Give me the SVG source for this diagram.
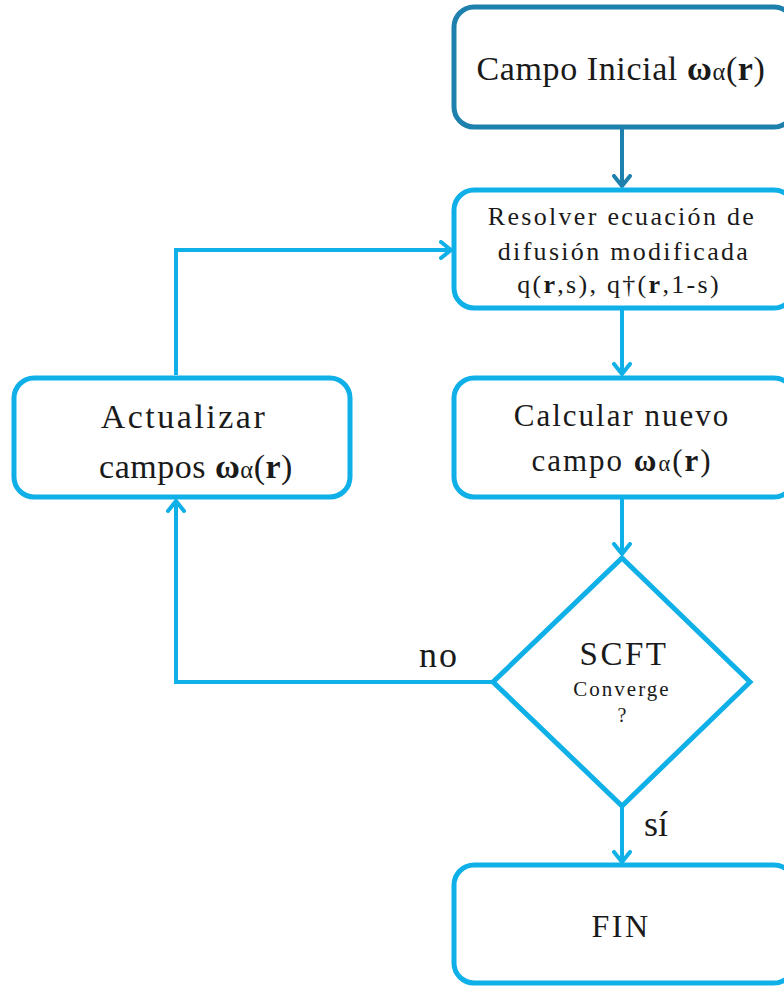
<svg xmlns="http://www.w3.org/2000/svg" width="784" height="987" viewBox="0 0 784 987">
  <style>
    .box { fill: #ffffff; stroke: #0fb0e8; stroke-width: 5; }
    .start { stroke: #1e80ac; }
    .wire { fill: none; stroke: #0fb0e8; stroke-width: 4; }
    .wire.dark { stroke: #1e80ac; }
    text { font-family: "Liberation Serif", "DejaVu Serif", serif; fill: #1a1a1a; text-anchor: middle; }
    .b { font-weight: bold; }
    .sub { font-size: 0.72em; }
  </style>
  <defs>
    <marker id="arrow" viewBox="0 0 14 20" refX="12" refY="10" markerWidth="14" markerHeight="20" markerUnits="userSpaceOnUse" orient="auto">
      <path d="M2,2 L12,10 L2,18" fill="none" stroke="#0fb0e8" stroke-width="4" stroke-linecap="round" stroke-linejoin="round"/>
    </marker>
    <marker id="arrowDark" viewBox="0 0 14 20" refX="12" refY="10" markerWidth="14" markerHeight="20" markerUnits="userSpaceOnUse" orient="auto">
      <path d="M2,2 L12,10 L2,18" fill="none" stroke="#1e80ac" stroke-width="4" stroke-linecap="round" stroke-linejoin="round"/>
    </marker>
  </defs>

  <!-- connectors -->
  <g id="connectors">
    <path class="wire dark" d="M622,129 V186" marker-end="url(#arrowDark)"/>
    <path class="wire" d="M622,310 V374" marker-end="url(#arrow)"/>
    <path class="wire" d="M622,499 V554" marker-end="url(#arrow)"/>
    <path class="wire" d="M622,807 V862" marker-end="url(#arrow)"/>
    <path class="wire" d="M493,682 H176 V501" marker-end="url(#arrow)"/>
    <path class="wire" d="M176,375 V250 H451" marker-end="url(#arrow)"/>
  </g>

  <g id="inicio">
    <rect class="box start" x="454" y="7" width="340" height="120" rx="20"/>
    <text x="621" y="80" font-size="34" letter-spacing="0.6">Campo Inicial <tspan class="b">ω</tspan><tspan class="sub">α</tspan>(<tspan class="b">r</tspan>)</text>
  </g>

  <g id="resolver">
    <rect class="box" x="454" y="190" width="340" height="118" rx="20"/>
    <text x="622" y="225" font-size="26" letter-spacing="2.3">Resolver ecuación de</text>
    <text x="624" y="260" font-size="26" letter-spacing="2.3">difusión modificada</text>
    <text x="619" y="293" font-size="26" letter-spacing="2.3">q(<tspan class="b">r</tspan>,s), q†(<tspan class="b">r</tspan>,1-s)</text>
  </g>

  <g id="calcular">
    <rect class="box" x="454" y="378" width="340" height="119" rx="20"/>
    <text x="622" y="426" font-size="31" letter-spacing="2">Calcular nuevo</text>
    <text x="622" y="471" font-size="31" letter-spacing="2">campo <tspan class="b">ω</tspan><tspan class="sub">α</tspan>(<tspan class="b">r</tspan>)</text>
  </g>

  <g id="actualizar">
    <rect class="box" x="14" y="378" width="336" height="119" rx="20"/>
    <text x="184" y="428" font-size="34" letter-spacing="2.5">Actualizar</text>
    <text x="196" y="478" font-size="34" letter-spacing="0.5">campos <tspan class="b">ω</tspan><tspan class="sub">α</tspan>(<tspan class="b">r</tspan>)</text>
  </g>

  <g id="converge">
    <polygon class="box" points="622,558 750,682 622,806 493,682" stroke-linejoin="miter"/>
    <text x="624" y="665" font-size="33" letter-spacing="2.5">SCFT</text>
    <text x="622" y="696" font-size="21" letter-spacing="2">Converge</text>
    <text x="622" y="722" font-size="20">?</text>
  </g>

  <g id="etiquetas">
    <text x="439" y="667" font-size="36" letter-spacing="2">no</text>
    <text x="656" y="836" font-size="36">sí</text>
  </g>

  <g id="fin">
    <rect class="box" x="454" y="865" width="340" height="118" rx="20"/>
    <text x="621" y="937" font-size="32" letter-spacing="2.5">FIN</text>
  </g>
</svg>
